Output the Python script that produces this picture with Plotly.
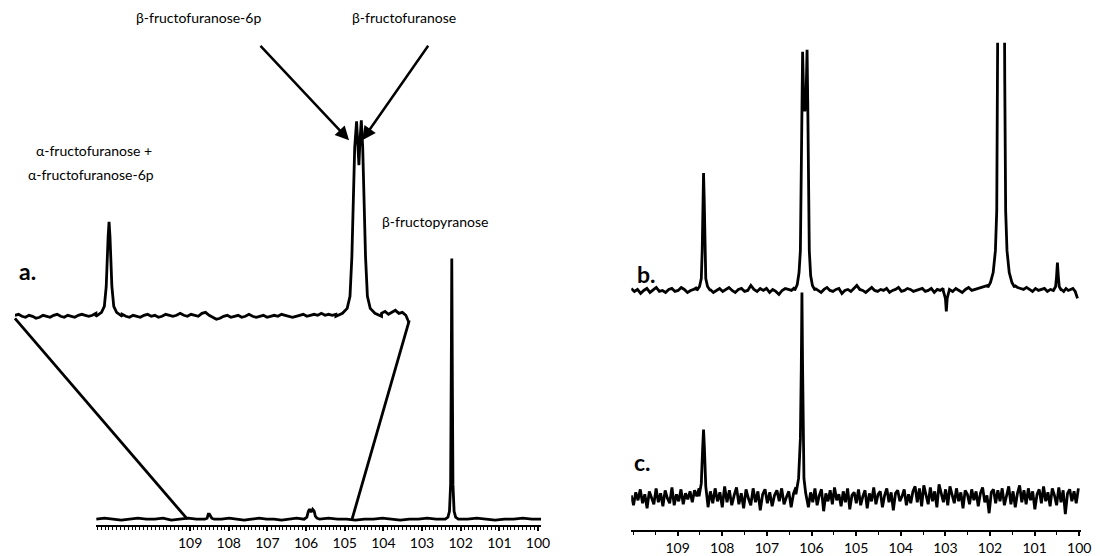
import numpy as np
import plotly.graph_objects as go

# page is 1100x556; the browser adds an 8px body margin, so the figure is drawn 8px in
OFF = 8
W, H = 1100 - OFF, 556 - OFF

# ---------------- data (ppm / intensity in display units) ----------------
# Spectrum a – full view
a_spans = [(111.43, 108.62), (108.38, 106.05), (105.65, 102.40), (102.06, 99.92)]
a_noise = [
    [0, 1, 0, -1, 0, 1, 0, 0, 1, -1, 0, 1, 0, 0],
    [0, 0, 1, 0, -1, 0, 1, 0, 0, -1, 0, 1, 0],
    [0, 1, 0, 0, -1, 0, 0, 1, 0, -1, 0, 0, 1, 0, 0],
    [0, 0, 1, 0, -1, 0, 0, 1, 0, 0],
]
a_peak_ppm = [
    [108.62, 108.56, 108.53, 108.50, 108.47, 108.44, 108.38],
    [106.05, 105.98, 105.94, 105.91, 105.87, 105.83, 105.79, 105.76, 105.72, 105.65],
    [102.40, 102.33, 102.29, 102.26, 102.245, 102.23, 102.215, 102.20, 102.17, 102.13, 102.06],
]
a_peak_int = [
    [0, 1, 5, 5, 2, 1, 0],
    [0, 2, 8, 10, 7, 10, 8, 3, 1, 0],
    [0, 2, 8, 35, 140, 262, 140, 35, 8, 2, 0],
]

# Spectrum a – expanded inset
z_spans = [(109.49, 108.63), (108.35, 106.08), (105.595, 105.30)]
z_noise = [
    [1, 2, 0, -1, 1, 0, -2, -1, 1, 0, -1, 1, 2, 0, -1, 1, 0, -1, 1, 2, 1, 0, 1, 3],
    [2, 0, -1, 1, 0, -1, 1, 2, 0, 1, -1, 0, 2, 1, 0, 1, 3, 1, 0, 2, 1, 0, 3, 4, 1, -1, -3,
     -2, 0, 1, -1, 0, 1, -1, 0, 2, 0, -1, 0, 1, -1, 0, 1, 0, 2, 1, 0, -1, 0, 1, 2, 0, 1, 2,
     1, 3, 1, 2, 1, 2],
    [3, 5, 2, 4, 6, 3, 4, 1, -7],
]
z_peak_ppm = [
    [108.63, 108.57, 108.54, 108.52, 108.50, 108.49, 108.48, 108.46, 108.44, 108.41, 108.35],
    [106.08, 106.01, 105.96, 105.93, 105.91, 105.895, 105.88, 105.86, 105.845, 105.835,
     105.825, 105.81, 105.795, 105.78, 105.765, 105.745, 105.715, 105.665, 105.595],
]
z_peak_int = [
    [0, 4, 10, 30, 80, 95, 80, 30, 10, 4, 0],
    [0, 3, 8, 20, 60, 120, 170, 196, 175, 152, 175, 197, 170, 120, 60, 20, 8, 3, 0],
]

# Spectrum b
b_spans = [(110.04, 108.57), (108.27, 106.38), (105.92, 103.05), (102.91, 102.05),
           (101.45, 100.58), (100.40, 100.04)]
b_noise = [
    [2, -1, 1, -3, 0, 2, -2, 1, 3, -1, 0, -2, 1, 2, -1, 0, 3, 1, -2, 0, 1, 3],
    [1, -2, 0, 2, -1, 1, 3, 0, -2, 1, 2, -1, 0, 5, 1, -1, 2, 0, 2, -2, 1, -1, -4, 0, 2, 1,
     0, 3],
    [2, 0, -2, 1, 3, 0, -1, 1, 2, -3, 0, 1, -1, 2, 5, 1, 0, -2, 1, 3, 0, -1, 1, 0, 2, -2,
     0, 1, 3, -1, 0, 2, 1, -1, 0, 1, 2, -1, 0, 2, -2, 1, 0, 2],
    [1, -1, 2, 0, -2, 1, 3, 0, 1, 2, 3, 4, 5],
    [5, 3, 2, 1, 3, 1, -1, 2, 0, 1, 2, -1, 1, 0],
    [1, -1, 2, 0, 1, 2, -1, -8],
]
b_peak_ppm = [
    [108.57, 108.51, 108.47, 108.45, 108.435, 108.42, 108.405, 108.39, 108.37, 108.33, 108.27],
    [106.38, 106.32, 106.28, 106.25, 106.23, 106.215, 106.20, 106.18, 106.15, 106.12,
     106.10, 106.085, 106.07, 106.05, 106.02, 105.98, 105.92],
    [103.05, 103.00, 102.98, 102.96, 102.91],
    [102.05, 101.99, 101.93, 101.88, 101.85, 101.83, 101.80, 101.75, 101.70, 101.67, 101.65,
     101.62, 101.57, 101.51, 101.45],
    [100.58, 100.53, 100.51, 100.49, 100.47, 100.45, 100.40],
]
b_peak_int = [
    [0, 4, 12, 40, 92, 118, 92, 40, 12, 4, 0],
    [0, 6, 18, 40, 100, 190, 240, 200, 180, 200, 242, 190, 100, 40, 15, 5, 0],
    [0, -8, -21, -8, 0],
    [3, 8, 18, 40, 80, 210, 500, 700, 500, 210, 80, 40, 18, 8, 3],
    [0, 4, 14, 28, 14, 4, 0],
]

# Spectrum c
c_spans = [(110.04, 108.52), (108.32, 106.35), (106.07, 100.02)]
c_noise = [
    [3, -7, 6, -2, 9, -5, 4, -10, 7, 1, -6, 10, -4, 5, -8, 8, 0, -5, 11, -7, 4, -3, 9, -6,
     5, -1, 7, -4, 8, 2, 10],
    [-9, 7, -5, 10, -3, 6, -9, 12, -4, 8, -7, 3, 11, -6, 5, -10, 9, 0, -7, 10, -4, 7, -12,
     4, 9, -5, 6, -8, 3, 8, -3, 10, -6, 1, 7, -9, 5, 11],
    [-9, 6, -4, 10, -7, 3, 9, -13, 5, -3, 8, -6, 11, -2, 4, -8, 7, -4, 10, -11, 3, 6, -5,
     9, -7, 2, 8, -10, 5, -3, 11, -6, 4, 7, -9, 3, 10, -4, 6, -12, 5, 8, -3, 2, 9, -7, 4,
     -5, 7, 12, -4, 10, -8, 13, 3, -6, 11, -3, 7, -9, 14, 5, -4, 9, -7, 12, 2, -5, 10, -3,
     6, -10, 8, 4, -6, 9, -2, 7, -8, 5, 11, -4, 3, -15, 6, 9, -5, 8, -3, 10, -7, 4, 12, -6,
     7, -9, 5, 13, -4, 8, -6, 10, -2, 7, -11, 4, 9, -5, 12, -3, 6, -8, 10, 3, -7, 11, -4,
     8, -16, 5, 9, -3, 7, -5, 10],
]
c_peak_ppm = [
    [108.52, 108.47, 108.44, 108.42, 108.40, 108.37, 108.32],
    [106.35, 106.29, 106.25, 106.23, 106.215, 106.20, 106.185, 106.17, 106.13, 106.07],
]
c_peak_int = [
    [2, 15, 50, 69, 50, 12, -8],
    [4, 20, 60, 130, 207, 130, 60, 20, 5, -6],
]

tick_ppm = [109, 108, 107, 106, 105, 104, 103, 102, 101, 100]
zoom_main_ppm = [109.07, 104.81]      # where the expansion is taken from on spectrum a

# ---------------- layout geometry (page pixels) ----------------
MAIN_X, MAIN_Y, MAIN_XR, MAIN_YR = (97, 546), (256, 528), (111.43, 99.92), (-6, 266)
INS_X, INS_Y, INS_XR, INS_YR = (15, 413), (110, 330), (109.49, 105.30), (-12, 208)
R_X, R_XR = (637, 1091), (110.04, 99.96)
B_Y, B_YR = (43, 330), (-38, 249)
C_Y, C_YR = (280, 533), (-32, 221)


def xdom(px):
    return [(px[0] - OFF) / W, (px[1] - OFF) / W]


def ydom(px):
    return [1 - (px[1] - OFF) / H, 1 - (px[0] - OFF) / H]


def px_of_x(v, dom, rng):
    return dom[0] + (rng[0] - v) / (rng[0] - rng[1]) * (dom[1] - dom[0])


def px_of_y(v, dom, rng):
    return dom[1] - (v - rng[0]) / (rng[1] - rng[0]) * (dom[1] - dom[0])


def build(spans, noise, pk_ppm, pk_int):
    xs, ys = [], []
    for i, (s, e) in enumerate(spans):
        xs += [float(v) for v in np.linspace(s, e, len(noise[i]))]
        ys += list(noise[i])
        if i < len(pk_ppm):
            xs += pk_ppm[i]
            ys += pk_int[i]
    return xs, ys


LINE = dict(color="black", width=2.8)
fig = go.Figure()

for (spans, noise, pp, pi), (xa, ya) in [
    ((a_spans, a_noise, a_peak_ppm, a_peak_int), ("x", "y")),
    ((z_spans, z_noise, z_peak_ppm, z_peak_int), ("x2", "y2")),
    ((b_spans, b_noise, b_peak_ppm, b_peak_int), ("x3", "y3")),
    ((c_spans, c_noise, c_peak_ppm, c_peak_int), ("x3", "y4")),
]:
    xs, ys = build(spans, noise, pp, pi)
    fig.add_trace(go.Scatter(x=xs, y=ys, mode="lines", line=LINE, xaxis=xa, yaxis=ya,
                             hoverinfo="skip"))

# expansion guide lines (inset edges -> spectrum a)
for k, edge in enumerate(INS_XR):
    x_top = px_of_x(edge, INS_X, INS_XR)
    y_top = px_of_y([-2, -4][k], INS_Y, INS_YR)
    x_bot = px_of_x(zoom_main_ppm[k], MAIN_X, MAIN_XR)
    y_bot = px_of_y(0, MAIN_Y, MAIN_YR)
    fig.add_trace(go.Scatter(x=[x_top, x_bot], y=[y_top, y_bot], mode="lines",
                             line=LINE, xaxis="x4", yaxis="y5", hoverinfo="skip"))

FONT = "Lato, 'Open Sans', sans-serif"
tick_common = dict(
    tickmode="array", tickvals=tick_ppm, ticktext=[str(t) for t in tick_ppm],
    ticks="outside", ticklen=4, tickwidth=1.5, tickcolor="black",
    showline=True, linecolor="black", linewidth=2, showgrid=False, zeroline=False,
    tickfont=dict(family=FONT, size=14, color="black"), ticklabeloverflow="allow",
)

fig.update_layout(
    width=W, height=H, margin=dict(l=0, r=0, t=0, b=0),
    paper_bgcolor="white", plot_bgcolor="rgba(0,0,0,0)", showlegend=False,
    xaxis=dict(domain=xdom(MAIN_X), range=list(MAIN_XR), anchor="y",
               minor=dict(tickmode="linear", tick0=100, dtick=0.1, ticks="outside",
                          ticklen=3, tickwidth=1, tickcolor="black"),
               **tick_common),
    yaxis=dict(domain=ydom(MAIN_Y), range=list(MAIN_YR), anchor="x", visible=False),
    xaxis2=dict(domain=xdom(INS_X), range=list(INS_XR), anchor="y2", visible=False),
    yaxis2=dict(domain=ydom(INS_Y), range=list(INS_YR), anchor="x2", visible=False),
    xaxis3=dict(domain=xdom(R_X), range=list(R_XR), anchor="y4",
                minor=dict(tickmode="linear", tick0=100, dtick=0.5, ticks="outside",
                           ticklen=3, tickwidth=1, tickcolor="black"),
                **tick_common),
    yaxis3=dict(domain=ydom(B_Y), range=list(B_YR), anchor="x3", visible=False),
    yaxis4=dict(domain=ydom(C_Y), range=list(C_YR), anchor="x3", visible=False),
    xaxis4=dict(domain=[0, 1], range=[OFF, OFF + W], anchor="y5", visible=False),
    yaxis5=dict(domain=[0, 1], range=[OFF + H, OFF], anchor="x4", visible=False),
)


def txt(s, x, y, size=14, bold=False):
    fig.add_annotation(text=f"<b>{s}</b>" if bold else s,
                       x=(x - OFF) / W, y=1 - (y - OFF) / H,
                       xref="paper", yref="paper", showarrow=False,
                       xanchor="center", yanchor="middle",
                       font=dict(family=FONT, size=size, color="black"))


txt("β-fructofuranose-6p", 200, 18)
txt("β-fructofuranose", 408, 18)
txt("α-fructofuranose +", 95, 151)
txt("α-fructofuranose-6p", 92, 175)
txt("β-fructopyranose", 439, 223)
txt("a.", 28, 272, 23, True)
txt("b.", 652, 275, 23, True)
txt("c.", 648, 464, 23, True)

# arrows pointing to the two resolved lines of the inset
for hx, tx in [(105.94, -90), (105.80, 67)]:
    fig.add_annotation(x=hx, y=177, xref="x2", yref="y2", ax=tx, ay=-96, text="",
                       font=dict(size=1), showarrow=True, arrowhead=2, arrowsize=1.1,
                       arrowwidth=2.5, arrowcolor="black")

fig.write_html("out.html")
